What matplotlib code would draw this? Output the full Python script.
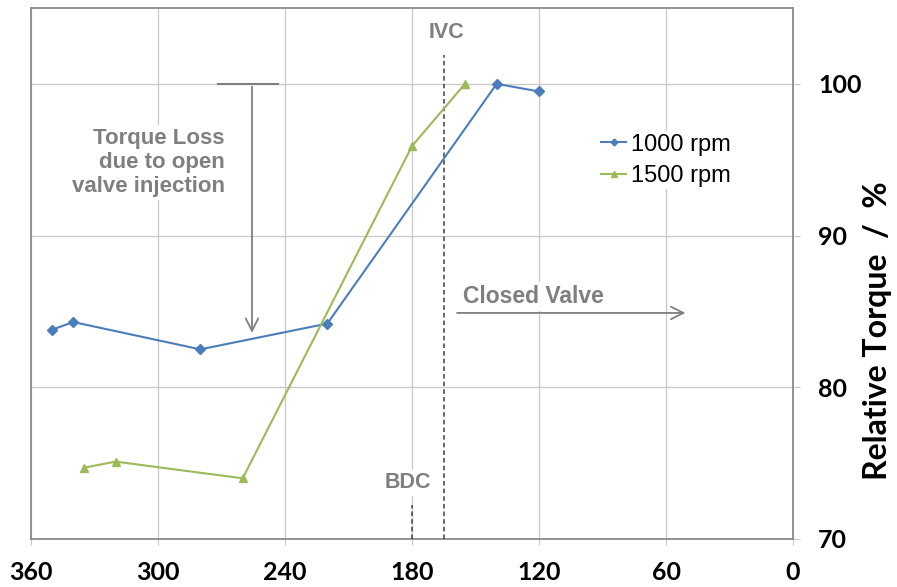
import matplotlib
matplotlib.use("Agg")
import matplotlib.pyplot as plt

# Data
crank_1000 = [350, 340, 280, 220, 140, 120]
torque_1000 = [83.8, 84.3, 82.5, 84.2, 100.0, 99.5]
crank_1500 = [335, 320, 260, 180, 155]
torque_1500 = [74.7, 75.1, 74.0, 95.9, 100.0]
x_ticks = [360, 300, 240, 180, 120, 60, 0]
y_ticks = [70, 80, 90, 100]
ivc_angle = 165
bdc_angle = 180

blue = "#4a7ebb"
green = "#9bbb59"
grey = "#7f7f7f"

fig = plt.figure(figsize=(8.97, 5.87), dpi=100)
ax = fig.add_axes([31/897, 48/587, (793-31)/897, (539-8)/587])

ax.set_xlim(360, 0)
ax.set_ylim(70, 105)
ax.set_xticks(x_ticks)
ax.set_yticks(y_ticks)
ax.yaxis.tick_right()

for s in ax.spines.values():
    s.set_color("#8a8a8a")
    s.set_linewidth(1.3)

ax.grid(True, color="#c8c8c8", linewidth=0.9, zorder=0)
ax.set_axisbelow(True)

tick_font = {"family": "Lato", "weight": "bold", "size": 18}
ax.set_xticklabels([str(v) for v in x_ticks], fontdict=tick_font)
ax.set_yticklabels([str(v) for v in y_ticks], fontdict=tick_font)
ax.tick_params(axis="x", length=4, color="#c8c8c8", pad=12, labelcolor="black")
ax.tick_params(axis="y", length=5, color="#c8c8c8", pad=13, labelcolor="black")

fig.text(877/897, 1 - 331/587, "Relative Torque  /  %", rotation=90, ha="center", va="center",
         family="Lato", weight="bold", fontsize=23)

ax.plot(crank_1000, torque_1000, color=blue, lw=1.5, marker="D", ms=5,
        mfc=blue, mec=blue, label="1000 rpm", zorder=4)
ax.plot(crank_1500, torque_1500, color=green, lw=1.5, marker="^", ms=6,
        mfc=green, mec=green, label="1500 rpm", zorder=4)

# IVC / BDC lines
ax.plot([ivc_angle, ivc_angle], [70, 101.9], color="#404040", lw=1.1, ls=(0, (3, 2)), zorder=3)
ax.plot([bdc_angle, bdc_angle], [70, 72.24], color="#404040", lw=1.1, ls=(0, (3, 2)), zorder=3)

txt = {"family": "Liberation Sans", "weight": "bold", "color": grey}
ax.text(163.5, 103.4, "IVC", ha="center", va="center", fontsize=15.5, **txt)
ax.text(182, 73.7, "BDC", ha="center", va="center", fontsize=15.5,
        bbox=dict(facecolor="white", edgecolor="none", pad=2), zorder=2, **txt)

# Torque loss annotation
ax.plot([271.7, 243.3], [100, 100], color=grey, lw=1.5, zorder=3)
ax.annotate("", xy=(255.6, 83.4), xytext=(255.6, 100),
            arrowprops=dict(arrowstyle="->,head_length=0.9,head_width=0.45", color=grey, lw=1.3),
            zorder=3)
ax.text(268.5, 94.8, "Torque Loss\ndue to open\nvalve injection", ha="right", va="center",
        fontsize=16, linespacing=1.2,
        bbox=dict(facecolor="white", edgecolor="none", pad=2), zorder=2, **txt)

# Closed valve annotation
ax.annotate("", xy=(49.5, 84.9), xytext=(160, 84.9),
            arrowprops=dict(arrowstyle="->,head_length=0.9,head_width=0.45", color=grey, lw=1.3),
            zorder=3)
ax.text(156, 86.0, "Closed Valve", ha="left", va="center", fontsize=16.5,
        bbox=dict(facecolor="white", edgecolor="none", pad=2), zorder=2, **txt)

leg = ax.legend(loc="center left", bbox_to_anchor=(0.745, 0.713), frameon=True,
                prop={"family": "Liberation Sans", "size": 17}, handlelength=1.06,
                handletextpad=0.2, borderpad=0.1, borderaxespad=0, labelspacing=0.4,
                markerscale=0.7)
leg.get_frame().set_edgecolor("none")
leg.get_frame().set_facecolor("white")
leg.get_frame().set_alpha(1)

fig.savefig("out.png", dpi=100)
